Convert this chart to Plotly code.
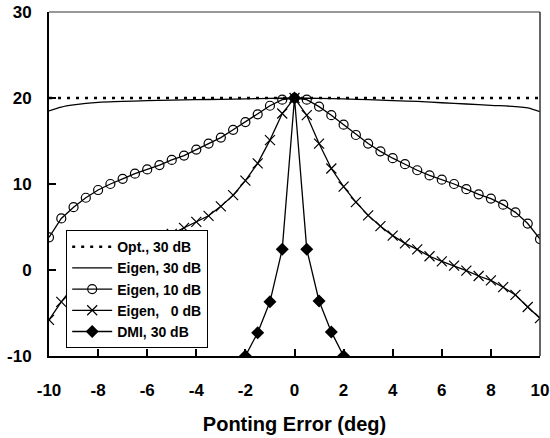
import plotly.graph_objects as go

# ---- data ----
x_half = [-10, -9.5, -9, -8.5, -8, -7.5, -7, -6.5, -6, -5.5, -5, -4.5, -4, -3.5, -3, -2.5, -2, -1.5, -1, -0.5,
          0, 0.5, 1, 1.5, 2, 2.5, 3, 3.5, 4, 4.5, 5, 5.5, 6, 6.5, 7, 7.5, 8, 8.5, 9, 9.5, 10]

opt_x = [-10, 10]
opt_y = [20, 20]

eig30_x = [-10, -9.5, -9, -8, -7, -6, -5, -4, -3, -2, -1, 0, 1, 2, 3, 4, 5, 6, 7, 8, 9, 9.5, 10]
eig30_y = [18.5, 18.95, 19.2, 19.5, 19.6, 19.7, 19.75, 19.8, 19.85, 19.9, 19.95, 20.0,
           19.95, 19.9, 19.8, 19.7, 19.6, 19.45, 19.3, 19.15, 19.0, 18.85, 18.4]

eig10_y = [3.8, 6.0, 7.3, 8.4, 9.3, 10.0, 10.6, 11.2, 11.7, 12.2, 12.8, 13.3, 14.0, 14.7, 15.4, 16.3, 17.2, 18.1, 19.1, 19.8,
           20.0, 19.8, 19.0, 18.0, 16.9, 15.7, 14.7, 13.8, 13.0, 12.3, 11.6, 11.0, 10.5, 10.0, 9.4, 8.8, 8.3, 7.6, 6.7, 5.4, 3.6]

eig0_y = [-5.8, -3.7, -1.9, -0.8, 0.0, 0.7, 1.4, 2.1, 2.8, 3.5, 4.2, 4.9, 5.6, 6.3, 7.4, 8.7, 10.4, 12.4, 15.1, 18.2,
          20.0, 18.0, 14.7, 11.8, 9.7, 7.9, 6.35, 5.1, 4.0, 3.1, 2.4, 1.6, 1.0, 0.5, -0.07, -0.7, -1.2, -2.0, -2.9, -4.3, -5.6]

dmi_x = [-2, -1.5, -1, -0.5, 0, 0.5, 1, 1.5, 2]
dmi_y = [-10, -7.3, -3.7, 2.4, 20.0, 2.4, -3.6, -7.2, -10]

x_ticks = [-10, -8, -6, -4, -2, 0, 2, 4, 6, 8, 10]
y_ticks = [-10, 0, 10, 20, 30]

# ---- figure ----
fig = go.Figure()
fig.add_trace(go.Scatter(x=opt_x, y=opt_y, mode="lines", name="Opt., 30 dB",
                         line=dict(color="black", width=2.5, dash="3px,6px")))
fig.add_trace(go.Scatter(x=eig30_x, y=eig30_y, mode="lines", name="Eigen, 30 dB",
                         line=dict(color="black", width=1.3, shape="spline")))
fig.add_trace(go.Scatter(x=x_half, y=eig10_y, mode="lines+markers", name="Eigen, 10 dB",
                         line=dict(color="black", width=1.3),
                         marker=dict(symbol="circle-open", size=9, color="black", line=dict(width=1.2))))
fig.add_trace(go.Scatter(x=x_half, y=eig0_y, mode="lines+markers", name="Eigen, \u00a0\u00a00 dB",
                         line=dict(color="black", width=1.3),
                         marker=dict(symbol="x-thin", size=10, color="black", line=dict(width=1.2, color="black"))))
fig.add_trace(go.Scatter(x=dmi_x, y=dmi_y, mode="lines+markers", name="DMI, 30 dB",
                         line=dict(color="black", width=1.3),
                         marker=dict(symbol="diamond", size=10, color="black")))

font_family = "Liberation Sans, Arial, sans-serif"

fig.update_layout(
    width=550, height=438,
    margin=dict(l=49, r=10, t=12, b=82, autoexpand=False),
    paper_bgcolor="white", plot_bgcolor="white",
    font=dict(family=font_family, color="black"),
    showlegend=True,
    legend=dict(x=0.035, y=0.366, xanchor="left", yanchor="top",
                bgcolor="white", bordercolor="black", borderwidth=1,
                font=dict(family=font_family, size=14, color="black", weight="bold"),
                tracegroupgap=0, itemwidth=40),
    xaxis=dict(range=[-10, 10], tickvals=x_ticks, ticktext=[str(v) for v in x_ticks],
               ticks="inside", ticklen=7, tickwidth=1.5, tickcolor="black", automargin=False,
               showline=True, linecolor="black", linewidth=2, showgrid=False, zeroline=False,
               tickfont=dict(family=font_family, size=17, color="black", weight="bold"),
               ticklabelstandoff=18,
               title=dict(text="Ponting Error (deg)", standoff=18,
                          font=dict(family=font_family, size=20, color="black", weight="bold"))),
    yaxis=dict(range=[-10, 30], tickvals=y_ticks, ticktext=[str(v) for v in y_ticks],
               ticks="inside", ticklen=7, tickwidth=1.5, tickcolor="black", automargin=False,
               showline=True, linecolor="black", linewidth=2, showgrid=False, zeroline=False,
               tickfont=dict(family=font_family, size=17, color="black", weight="bold"),
               ticklabelstandoff=12),
)

# thin top and right frame lines
fig.add_shape(type="line", xref="paper", yref="paper", x0=0, x1=1, y0=1, y1=1,
              line=dict(color="#333333", width=1))
fig.add_shape(type="line", xref="paper", yref="paper", x0=1, x1=1, y0=0, y1=1,
              line=dict(color="#333333", width=1.5))

fig.write_html("out.html")
